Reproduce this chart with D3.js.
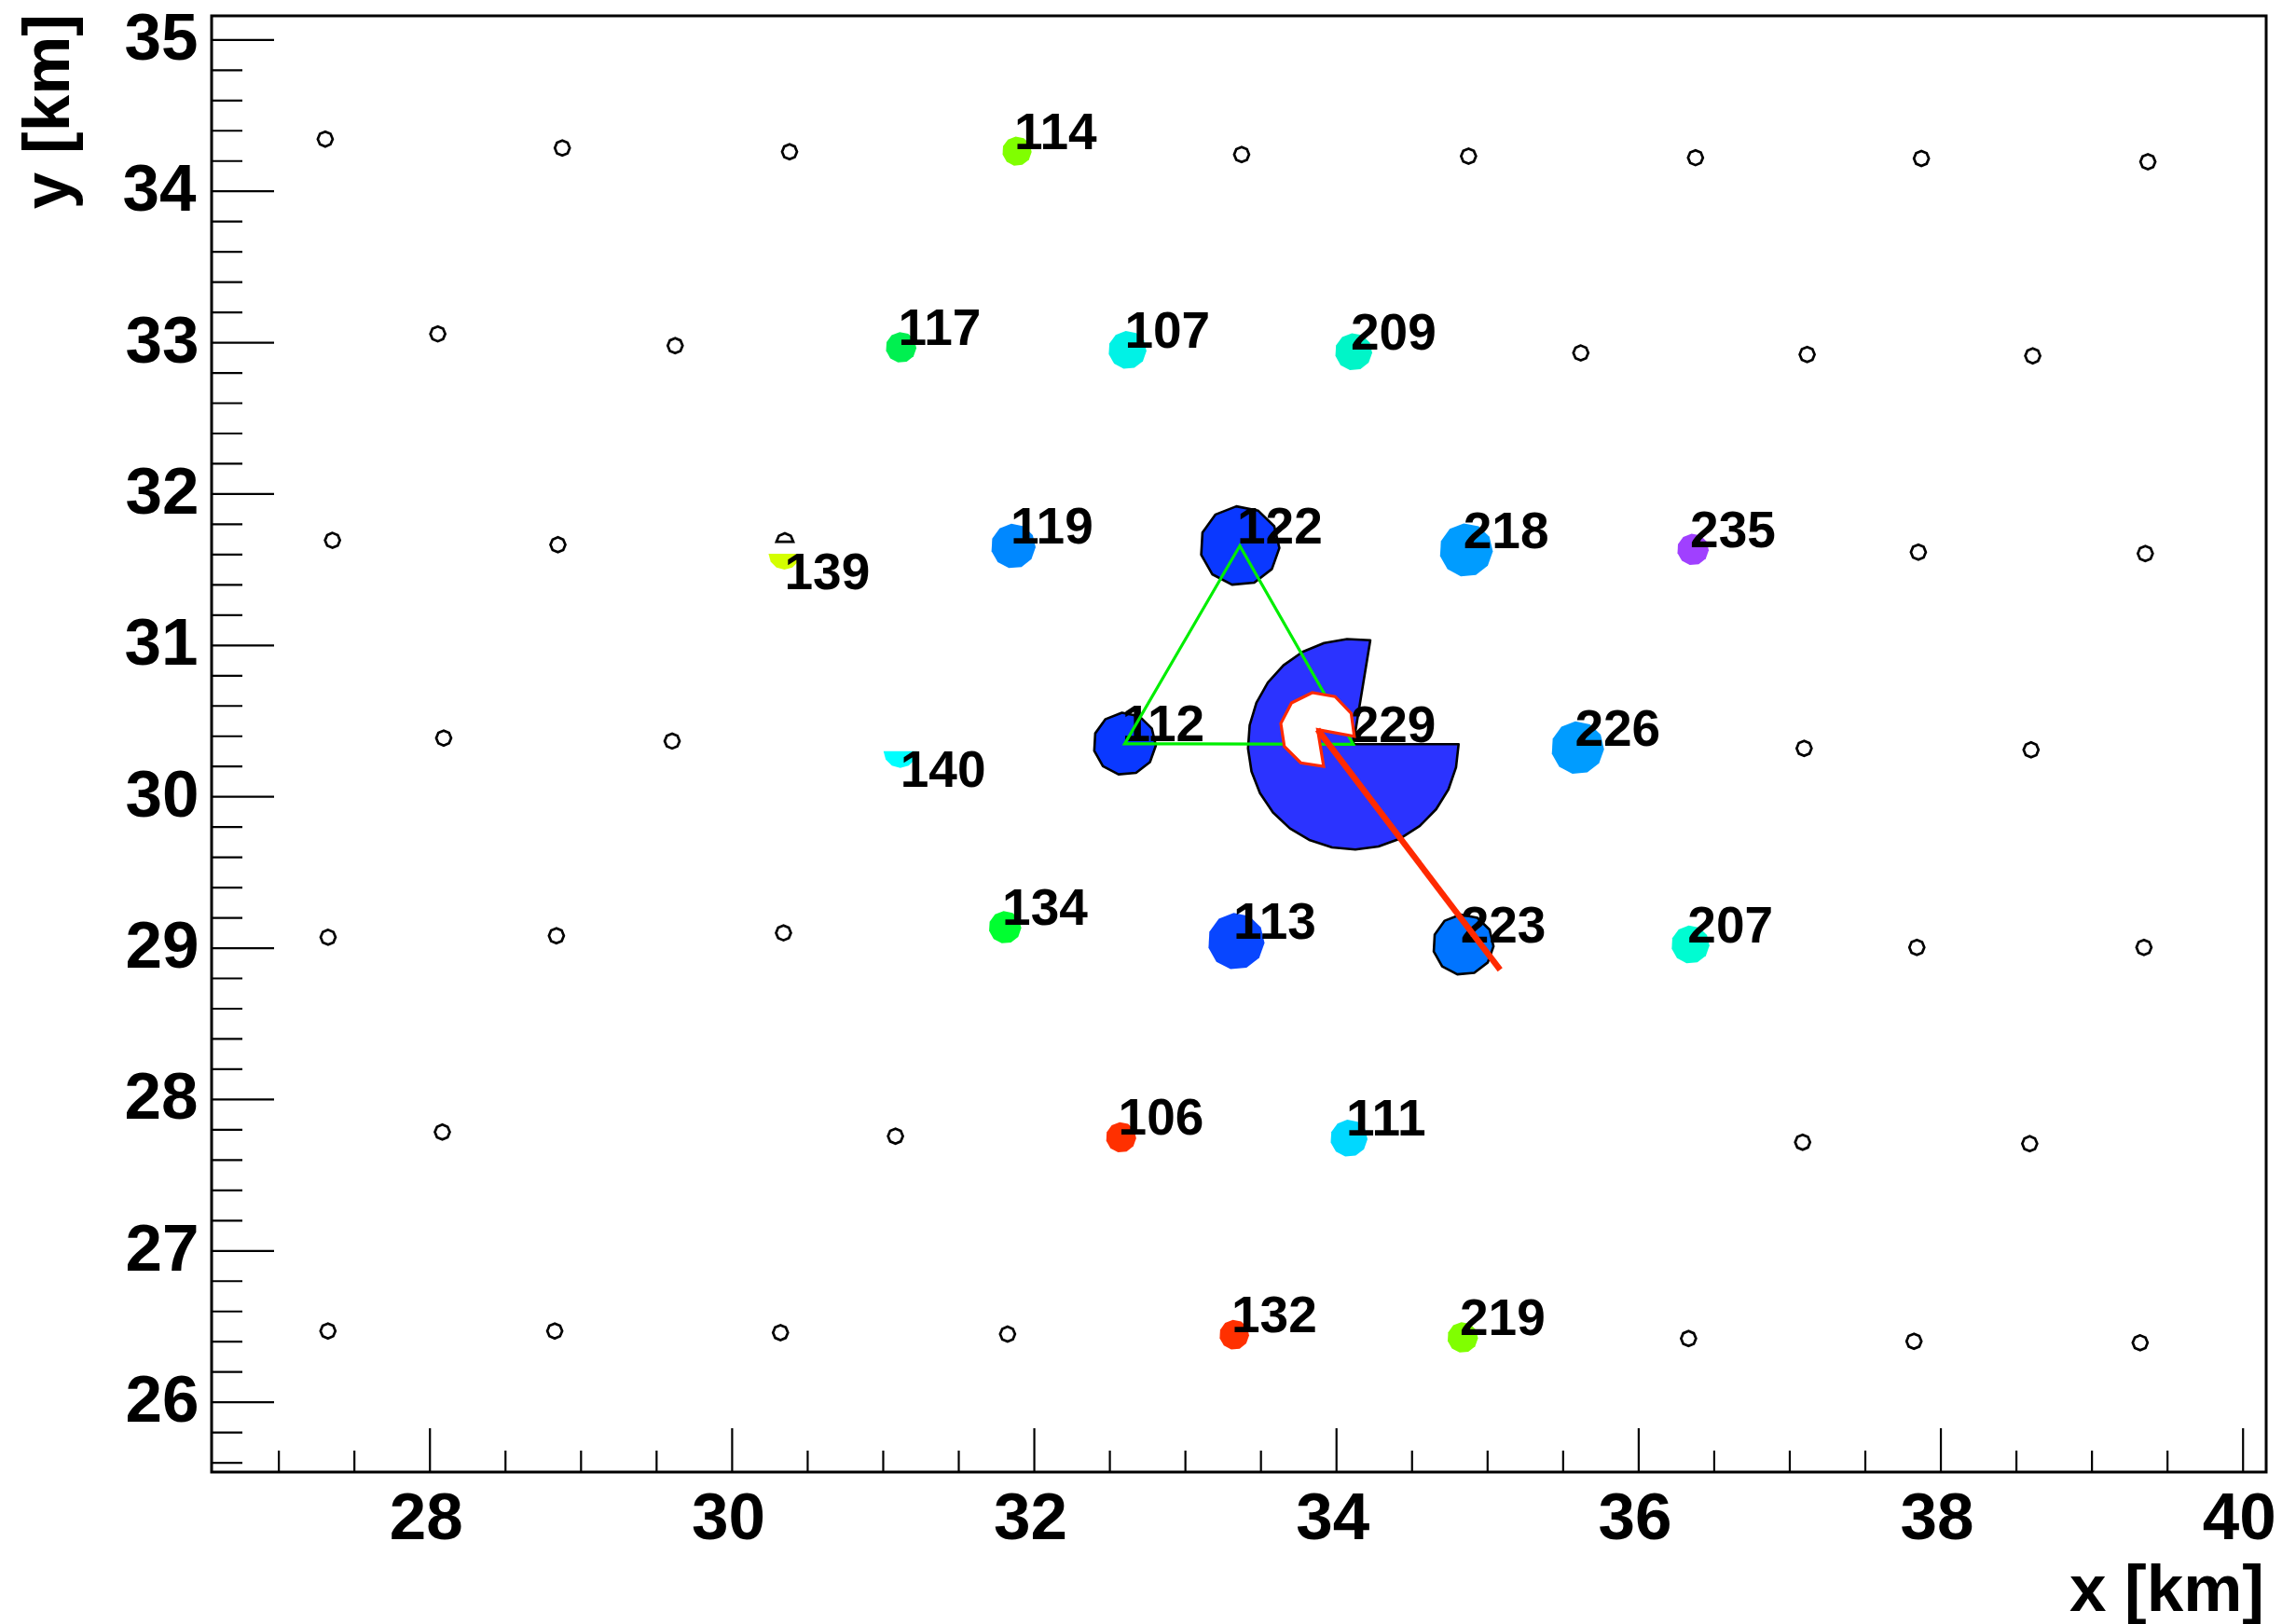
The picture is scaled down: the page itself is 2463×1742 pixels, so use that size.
<!DOCTYPE html>
<html>
<head>
<meta charset="utf-8">
<script src="https://cdn.jsdelivr.net/npm/d3@7"></script>
<style>
  html, body { margin: 0; padding: 0; background: #fff; }
  svg { display: block; }
  text { font-family: "Liberation Sans", Arial, Helvetica, sans-serif; font-weight: bold; fill: #000; }
</style>
</head>
<body>
<svg id="chart" width="2463" height="1742"></svg>
<script>
// ---- Detector array: stations without a signal (km) ----
const ringX = [27.310, 28.879, 30.383, 33.375, 34.877, 36.379, 37.874, 39.373,
               28.055, 29.626, 35.620, 37.118, 38.611,
               27.358, 28.850, 37.854, 39.356,
               28.094, 29.606, 37.098, 38.600,
               27.329, 28.840, 30.343, 37.844, 39.347,
               28.085, 31.084, 37.088, 38.591,
               27.328, 28.829, 30.323, 31.826, 36.333, 37.825, 39.322];
const ringY = [34.342, 34.283, 34.258, 34.240, 34.229, 34.219, 34.214, 34.192,
               33.055, 32.977, 32.929, 32.919, 32.910,
               31.691, 31.662, 31.613, 31.604,
               30.385, 30.365, 30.317, 30.307,
               29.069, 29.079, 29.098, 29.002, 29.002,
               27.782, 27.755, 27.715, 27.705,
               26.468, 26.468, 26.457, 26.447, 26.418, 26.400, 26.390];

// ---- Triggered stations ----
const stationIds    = [114, 117, 107, 209, 139, 119, 122, 218, 235, 140, 112,
                       229, 226, 134, 113, 223, 207, 106, 111, 132, 219];
const stationX      = [31.888, 31.121, 32.619, 34.116, 30.349, 31.864, 33.363, 34.861, 36.362, 31.116, 32.601,
                       34.114, 35.599, 31.809, 33.339, 34.842, 36.345, 32.577, 34.085, 33.326, 34.838];
const stationY      = [34.262, 32.966, 32.949, 32.937, 31.602, 31.653, 31.655, 31.627, 31.631, 30.299, 30.347,
                       30.344, 30.321, 29.135, 29.042, 29.020, 29.021, 27.747, 27.741, 26.443, 26.425];
const stationSignal = [15.6, 17.0, 26.3, 25.0, 18.1, 36.0, 112.9, 51.5, 18.1, 20.3, 70.1,
                       798, 50.4, 19.1, 58.1, 66.0, 26.3, 16.6, 25.0, 16.0, 17.0];
// start-time bin of each station (early -> late)
const stationTimeBin = [14, 12, 8, 10, 15, 5, 2, 6, 0, 9, 2,
                        1, 6, 13, 3, 4, 11, 16, 7, 16, 14];
const timePalette = ["#a040ff", "#2b33ff", "#0a38ff", "#0846ff", "#0074ff", "#0088ff",
                     "#009cff", "#00d8ff", "#00f2e6", "#00ffff", "#00f5c8", "#00fcd2",
                     "#00f050", "#00ff30", "#80ff00", "#d4ff00", "#ff3000"];
const usedInFit   = [122, 112, 223, 229];
const halfMarkers = [139, 140];          // partly hidden, label below
const saturatedId = 229;
const saturatedGap = [0, 80.7];          // degrees, missing sector of the saturated marker
const hiddenRing = { x: 30.352, y: 31.682 };

// ---- Reconstruction ----
const triangleIds = [122, 112, 229];
const core = { x: 33.878, y: 30.441 };
const coreGap = [-80.7, -10.4];          // degrees
const axisEnd = { x: 35.086, y: 28.854 };

// ---- Axes ----
const xMajor = [28, 30, 32, 34, 36, 38, 40];
const yMajor = [26, 27, 28, 29, 30, 31, 32, 33, 34, 35];
const xTitle = "x [km]";
const yTitle = "y [km]";

// ---------------------------------------------------------------
const svg = d3.select("#chart");
const frame = { left: 227, right: 2431, top: 17, bottom: 1579 };
const x = d3.scaleLinear().domain([26.558, 40.156]).range([frame.left, frame.right]);
const y = d3.scaleLinear().domain([25.536, 35.156]).range([frame.bottom, frame.top]);
const rScale = d3.scaleSqrt().domain([0, 100]).range([0, 40]);

const TICK_FONT = 71, LABEL_FONT = 55;

// polygonal arc, angles in degrees counter-clockwise from +x
function arcPoints(cx, cy, r, a0, a1, step) {
  const n = Math.max(1, Math.round((a1 - a0) / step));
  const pts = [];
  for (let i = 0; i <= n; i++) {
    const a = (a0 + (a1 - a0) * i / n) * Math.PI / 180;
    pts.push([cx + r * Math.cos(a), cy - r * Math.sin(a)]);
  }
  return pts;
}
const poly = pts => "M" + pts.map(p => p[0].toFixed(2) + "," + p[1].toFixed(2)).join("L") + "Z";

const stations = stationIds.map((id, i) => ({
  id, x: stationX[i], y: stationY[i], s: stationSignal[i],
  color: timePalette[stationTimeBin[i]],
  used: usedInFit.includes(id), half: halfMarkers.includes(id)
}));
const byId = Object.fromEntries(stations.map(d => [d.id, d]));

// ---- stations without signal ----
svg.append("g").selectAll("path").data(ringX.map((v, i) => [v, ringY[i]])).join("path")
  .attr("d", d => poly(arcPoints(x(d[0]), y(d[1]), 8, 90, 450, 45).slice(0, -1)))
  .attr("fill", "#fff").attr("stroke", "#000").attr("stroke-width", 2.7);

// upper half of a ring partly covered near station 139
svg.append("path")
  .attr("d", poly(arcPoints(x(hiddenRing.x), y(hiddenRing.y), 9, 0, 180, 45)))
  .attr("fill", "#fff").attr("stroke", "#000").attr("stroke-width", 2.7);

// ---- triggered stations ----
const gSt = svg.append("g");
stations.filter(d => d.id !== saturatedId).forEach(d => {
  const cx = x(d.x), cy = y(d.y), r = rScale(d.s);
  const pts = d.half ? arcPoints(cx, cy, r, 180, 360, 30)
                     : arcPoints(cx, cy, r, 95, 455, 33).slice(0, -1);
  gSt.append("path").attr("d", poly(pts))
    .attr("fill", d.color)
    .attr("stroke", d.used ? "#000" : "none")
    .attr("stroke-width", d.used ? 2.6 : 0)
    .attr("stroke-linejoin", "round");
});

// saturated station drawn as an open sector
{
  const d = byId[saturatedId];
  const cx = x(d.x), cy = y(d.y), r = rScale(d.s);
  const pts = [[cx, cy]].concat(arcPoints(cx, cy, r, saturatedGap[1], 360 + saturatedGap[0], 12.7));
  gSt.append("path").attr("d", poly(pts))
    .attr("fill", d.color).attr("stroke", "#000").attr("stroke-width", 2.6)
    .attr("stroke-linejoin", "round");
}

// ---- station labels ----
svg.append("g").selectAll("text").data(stations).join("text")
  .attr("x", d => x(d.x) - (d.half ? 0 : 3))
  .attr("y", d => d.half ? y(d.y) + 38 : y(d.y) - 2.5)
  .attr("font-size", LABEL_FONT)
  .text(d => d.id);

// ---- triangle of the three stations used for the first estimate ----
svg.append("path")
  .attr("d", poly(triangleIds.map(id => [x(byId[id].x), y(byId[id].y)])))
  .attr("fill", "none").attr("stroke", "#00ee00").attr("stroke-width", 3.2)
  .attr("stroke-linejoin", "miter");

// ---- reconstructed core ----
{
  const cx = x(core.x), cy = y(core.y);
  const pts = [[cx, cy]].concat(arcPoints(cx, cy, 40, coreGap[1], 360 + coreGap[0], 36));
  svg.append("path").attr("d", poly(pts))
    .attr("fill", "#fff").attr("stroke", "#ff2a00").attr("stroke-width", 3.2)
    .attr("stroke-linejoin", "miter");
  svg.append("line")
    .attr("x1", cx).attr("y1", cy)
    .attr("x2", x(axisEnd.x)).attr("y2", y(axisEnd.y))
    .attr("stroke", "#ff2a00").attr("stroke-width", 6.5);
}

// ---- axes ----
const tickStyle = g => g.selectAll(".tick line").attr("stroke", "#000").attr("stroke-width", 2.2);

const xMinor = d3.range(27, 40.01, 0.5).map(v => +v.toFixed(1)).filter(v => !xMajor.includes(v));
const yMinor = d3.range(25.6, 35.01, 0.2).map(v => +v.toFixed(1)).filter(v => !yMajor.includes(v));

svg.append("g").attr("transform", `translate(0,${frame.bottom})`)
  .call(d3.axisBottom(x).tickValues(xMinor).tickSize(-23).tickSizeOuter(0).tickFormat(""))
  .call(g => g.select(".domain").remove()).call(tickStyle);
const xAx = svg.append("g").attr("transform", `translate(0,${frame.bottom})`)
  .call(d3.axisBottom(x).tickValues(xMajor).tickSize(-47).tickSizeOuter(0).tickFormat(d3.format("d")))
  .call(g => g.select(".domain").remove()).call(tickStyle);
xAx.selectAll(".tick text")
  .attr("y", 72).attr("dy", 0).attr("x", -4)
  .attr("font-size", TICK_FONT).attr("fill", "#000")
  .style("font-family", '"Liberation Sans", Arial, sans-serif').style("font-weight", "bold");

svg.append("g").attr("transform", `translate(${frame.left},0)`)
  .call(d3.axisLeft(y).tickValues(yMinor).tickSize(-33).tickSizeOuter(0).tickFormat(""))
  .call(g => g.select(".domain").remove()).call(tickStyle);
const yAx = svg.append("g").attr("transform", `translate(${frame.left},0)`)
  .call(d3.axisLeft(y).tickValues(yMajor).tickSize(-67).tickSizeOuter(0).tickFormat(d3.format("d")))
  .call(g => g.select(".domain").remove()).call(tickStyle);

// right-align the y labels on their ink extent
const ctx = document.createElement("canvas").getContext("2d");
ctx.font = `bold ${TICK_FONT}px "Liberation Sans", Arial, sans-serif`;
yAx.selectAll(".tick text")
  .attr("text-anchor", "start")
  .attr("font-size", TICK_FONT).attr("fill", "#000")
  .style("font-family", '"Liberation Sans", Arial, sans-serif').style("font-weight", "bold")
  .attr("dy", 0).attr("y", 21)
  .attr("x", function (d) {
    const m = ctx.measureText(d3.format("d")(d));
    return (211 - frame.left) - m.actualBoundingBoxRight;
  });

// frame
svg.append("rect")
  .attr("x", frame.left).attr("y", frame.top)
  .attr("width", frame.right - frame.left).attr("height", frame.bottom - frame.top)
  .attr("fill", "none").attr("stroke", "#000").attr("stroke-width", 3);

// axis titles
svg.append("text").attr("x", 2429).attr("y", 1728).attr("text-anchor", "end")
  .attr("font-size", TICK_FONT).text(xTitle);
svg.append("text").attr("transform", "translate(74,15) rotate(-90)").attr("text-anchor", "end")
  .attr("font-size", TICK_FONT).text(yTitle);
</script>
</body>
</html>
